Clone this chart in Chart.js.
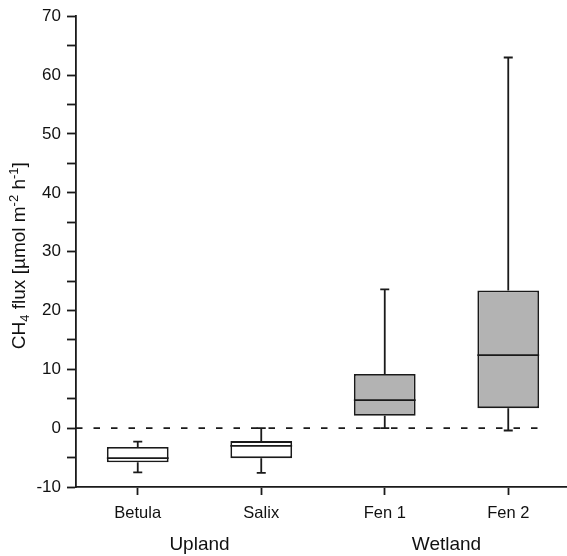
<!DOCTYPE html>
<html><head><meta charset="utf-8">
<script src="https://cdn.jsdelivr.net/npm/chart.js@4.4.0/dist/chart.umd.min.js"></script>
<style>html,body{margin:0;padding:0;overflow:hidden;background:#fff;width:567px;height:556px}canvas{display:block}</style>
</head><body>
<canvas id="c" width="570" height="556"></canvas>
<script>
// ---- data ----
const categories = ['Betula', 'Salix', 'Fen 1', 'Fen 2'];
const groupLabels = ['Upland', 'Wetland'];
const groupMembers = [[0, 1], [2, 3]];
const whiskerLow  = [-7.5, -7.6, 0.0, -0.4];
const q1          = [-5.8, -5.1, 2.1, 3.4];
const median      = [-5.1, -3.0, 4.75, 12.4];
const q3          = [-3.2, -2.2, 9.2, 23.4];
const whiskerHigh = [-2.3, 0.0, 23.6, 63.0];
const yMin = -10, yMax = 70, yStep = 5, yLabelStep = 10;
const refLine = 0;

// ---- styles ----
const FONT = "'Liberation Sans', Arial, sans-serif";
const INK = '#1a1a1a';
const LW = 1.8;
const boxFill = ['#ffffff', '#ffffff', '#b3b3b3', '#b3b3b3'];

const boxPlugin = {
  id: 'boxplot',
  beforeDatasetsDraw(chart) {
    const {ctx, chartArea: a, scales: {y}} = chart;
    const py = y.getPixelForValue(refLine);
    ctx.save();
    ctx.setLineDash([6.5, 11]);
    ctx.lineWidth = LW;
    ctx.strokeStyle = INK;
    ctx.beginPath();
    ctx.moveTo(a.left, py);
    ctx.lineTo(a.right - 25, py);
    ctx.stroke();
    ctx.restore();
  },
  afterDatasetsDraw(chart) {
    const {ctx, scales: {y}} = chart;
    const els = chart.getDatasetMeta(0).data;
    ctx.save();
    ctx.lineWidth = LW;
    ctx.strokeStyle = INK;
    els.forEach((el, i) => {
      const x = el.x, w = el.width, cap = 4.5;
      const pLow = y.getPixelForValue(whiskerLow[i]);
      const pQ1 = y.getPixelForValue(q1[i]);
      const pMed = y.getPixelForValue(median[i]);
      const pQ3 = y.getPixelForValue(q3[i]);
      const pHigh = y.getPixelForValue(whiskerHigh[i]);
      ctx.beginPath();
      ctx.moveTo(x, pQ3); ctx.lineTo(x, pHigh);
      ctx.moveTo(x - cap, pHigh); ctx.lineTo(x + cap, pHigh);
      ctx.moveTo(x, pQ1); ctx.lineTo(x, pLow);
      ctx.moveTo(x - cap, pLow); ctx.lineTo(x + cap, pLow);
      ctx.moveTo(x - w / 2, pMed); ctx.lineTo(x + w / 2, pMed);
      ctx.stroke();
    });
    ctx.restore();
  },
  afterDraw(chart) {
    const {ctx, chartArea: a, scales: {x}} = chart;
    ctx.save();
    // group labels
    ctx.fillStyle = '#111';
    ctx.font = '19px ' + FONT;
    ctx.textAlign = 'center';
    ctx.textBaseline = 'middle';
    groupLabels.forEach((g, gi) => {
      const m = groupMembers[gi];
      const px = m.reduce((s, k) => s + x.getPixelForValue(k), 0) / m.length;
      ctx.fillText(g, px, 545);
    });
    // y-axis title with sub/superscripts
    const big = 19, small = 13;
    const segs = [
      {t: 'CH', s: big, dy: 0},
      {t: '4', s: small, dy: 4},
      {t: ' flux [\u00b5mol m', s: big, dy: 0},
      {t: '-2', s: small, dy: -7},
      {t: ' h', s: big, dy: 0},
      {t: '-1', s: small, dy: -7},
      {t: ']', s: big, dy: 0}
    ];
    let total = 0;
    segs.forEach(sg => { ctx.font = sg.s + 'px ' + FONT; sg.w = ctx.measureText(sg.t).width; total += sg.w; });
    ctx.translate(25, (a.top + a.bottom) / 2 + 4);
    ctx.rotate(-Math.PI / 2);
    ctx.textAlign = 'left';
    ctx.textBaseline = 'alphabetic';
    let cx = -total / 2;
    segs.forEach(sg => {
      ctx.font = sg.s + 'px ' + FONT;
      ctx.fillText(sg.t, cx, sg.dy);
      cx += sg.w;
    });
    ctx.restore();
  }
};

new Chart(document.getElementById('c'), {
  type: 'bar',
  data: {
    labels: categories,
    datasets: [{
      data: categories.map((_, i) => [q1[i], q3[i]]),
      backgroundColor: boxFill,
      borderColor: INK,
      borderWidth: LW,
      borderSkipped: false,
      barPercentage: 0.5,
      categoryPercentage: 1.0
    }]
  },
  options: {
    responsive: false,
    animation: false,
    layout: {padding: {top: 16.3, right: 0, bottom: 0, left: 0}},
    plugins: {legend: {display: false}, tooltip: {enabled: false}},
    scales: {
      x: {
        type: 'category',
        offset: true,
        grid: {display: true, drawOnChartArea: false, drawTicks: true, tickLength: 8, tickColor: INK, tickWidth: LW, offset: false},
        border: {display: true, color: INK, width: LW},
        ticks: {color: '#111', font: {family: FONT, size: 16.5}, padding: 9, maxRotation: 0},
        afterFit(s) { s.height = 69; }
      },
      y: {
        min: yMin, max: yMax,
        ticks: {
          stepSize: yStep, autoSkip: false,
          callback: v => (v % yLabelStep === 0 ? String(v) : ''),
          color: '#111', font: {family: FONT, size: 17}, padding: 6
        },
        grid: {display: true, drawOnChartArea: false, drawTicks: true, tickLength: 9, tickColor: INK, tickWidth: LW},
        border: {display: true, color: INK, width: LW},
        afterFit(s) { s.width = 76; }
      }
    }
  },
  plugins: [boxPlugin]
});
</script>
</body></html>
